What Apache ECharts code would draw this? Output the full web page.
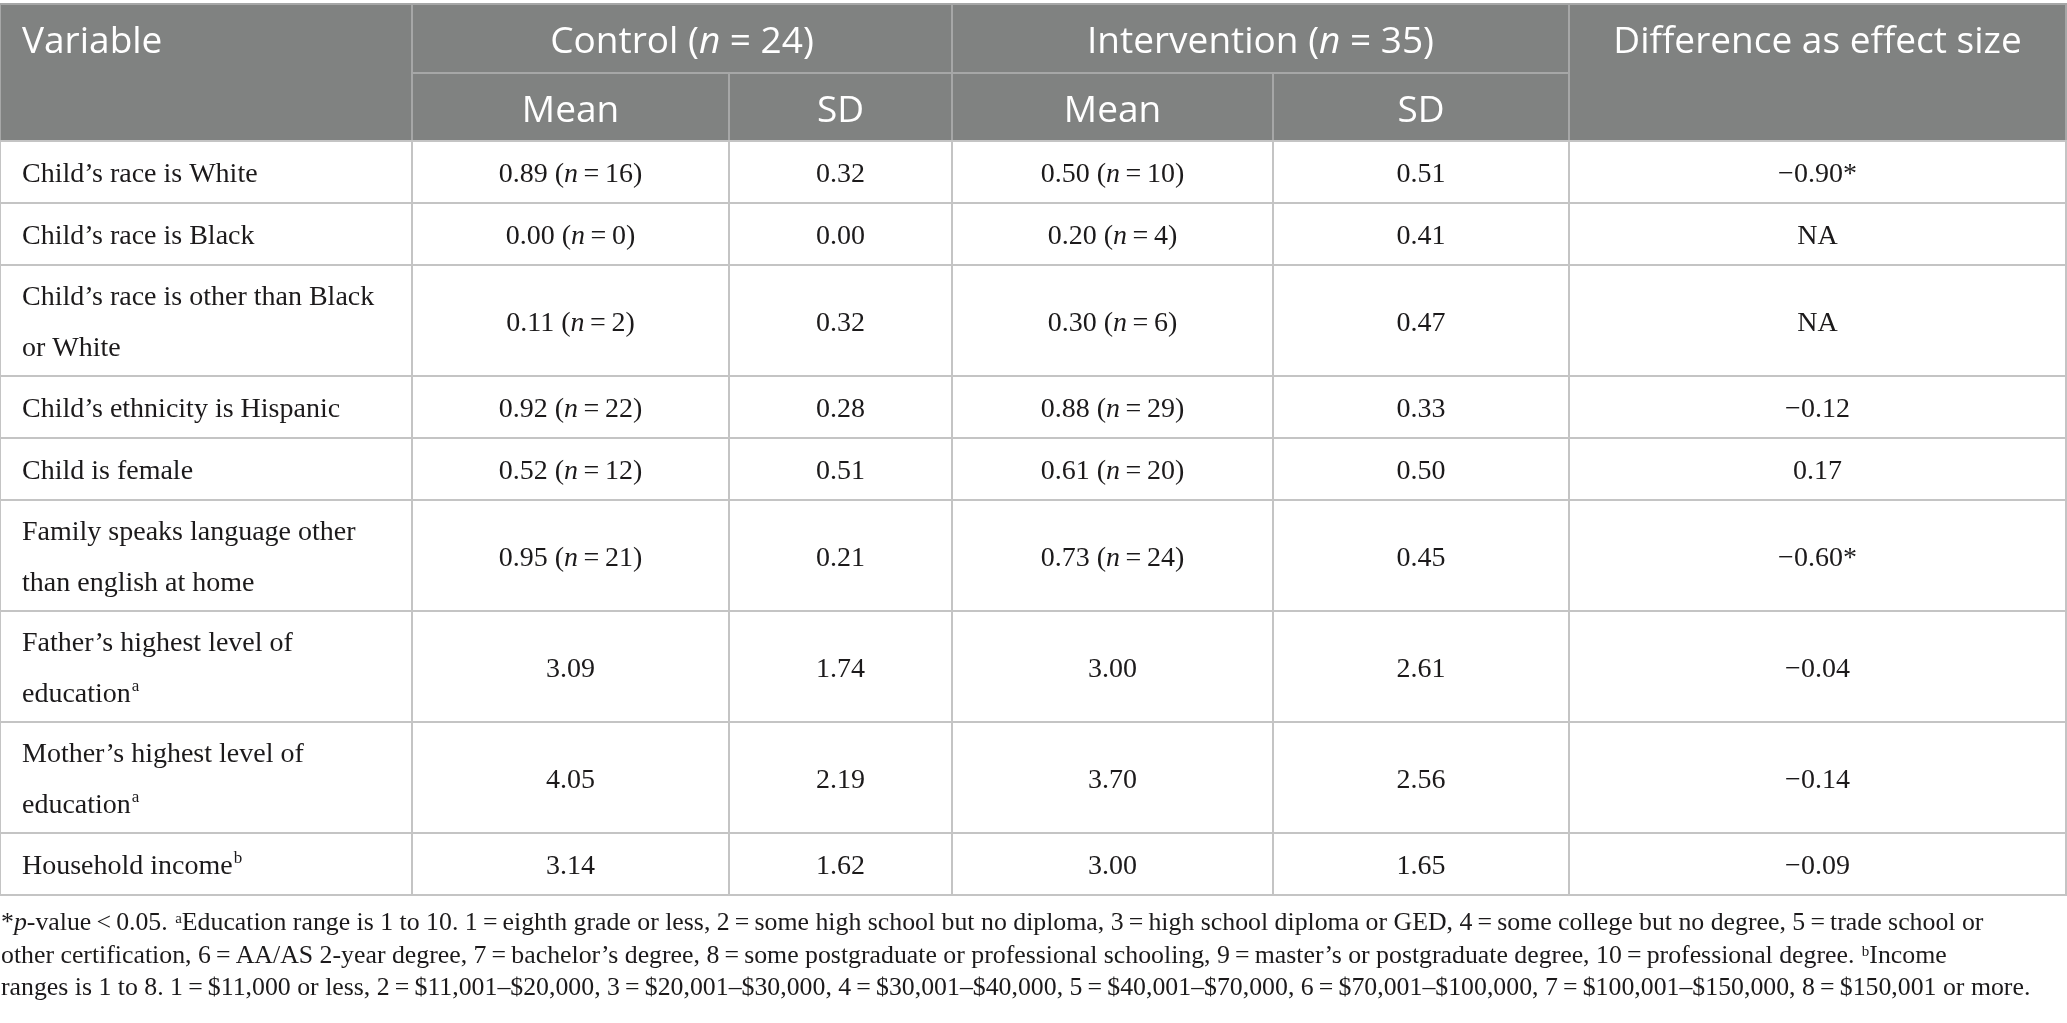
<!DOCTYPE html>
<html lang="en">
<head>
<meta charset="UTF-8">
<title>Child and family characteristics by group</title>
<script src="https://cdn.jsdelivr.net/npm/echarts@6.0.0/dist/echarts.min.js"></script>
<style>
  html, body { margin: 0; padding: 0; background: #fff; }
  #chart { width: 2067px; height: 1023px; }
</style>
</head>
<body>
<div id="chart"></div>
<script>
// ---- table content ----
const variableHeader = 'Variable';
const effectHeader = 'Difference as effect size';
const groups = ['Control', 'Intervention'];
const groupN = [24, 35];
const subHeaders = ['Mean', 'SD', 'Mean', 'SD'];

const variables = [
  'Child’s race is White',
  'Child’s race is Black',
  'Child’s race is other than Black\nor White',
  'Child’s ethnicity is Hispanic',
  'Child is female',
  'Family speaks language other\nthan english at home',
  'Father’s highest level of\neducation{sup|a}',
  'Mother’s highest level of\neducation{sup|a}',
  'Household income{sup|b}'
];
const controlMean = [0.89, 0.00, 0.11, 0.92, 0.52, 0.95, 3.09, 4.05, 3.14];
const controlN = [16, 0, 2, 22, 12, 21, null, null, null];
const controlSD = [0.32, 0.00, 0.32, 0.28, 0.51, 0.21, 1.74, 2.19, 1.62];
const interventionMean = [0.50, 0.20, 0.30, 0.88, 0.61, 0.73, 3.00, 3.70, 3.00];
const interventionN = [10, 4, 6, 29, 20, 24, null, null, null];
const interventionSD = [0.51, 0.41, 0.47, 0.33, 0.50, 0.45, 2.61, 2.56, 1.65];
const effectSize = [-0.90, null, null, -0.12, 0.17, -0.60, -0.04, -0.14, -0.09];
const significant = [true, false, false, false, false, true, false, false, false];

const footnoteLines = [
  '*{i|p}-value\u2009<\u20090.05. {sup|a}Education range is 1 to 10. 1\u2009=\u2009eighth grade or less, 2\u2009=\u2009some high school but no diploma, 3\u2009=\u2009high school diploma or GED, 4\u2009=\u2009some college but no degree, 5\u2009=\u2009trade school or',
  'other certification, 6\u2009=\u2009AA/AS 2-year degree, 7\u2009=\u2009bachelor’s degree, 8\u2009=\u2009some postgraduate or professional schooling, 9\u2009=\u2009master’s or postgraduate degree, 10\u2009=\u2009professional degree. {sup|b}Income',
  'ranges is 1 to 8. 1\u2009=\u2009$11,000 or less, 2\u2009=\u2009$11,001–$20,000, 3\u2009=\u2009$20,001–$30,000, 4\u2009=\u2009$30,001–$40,000, 5\u2009=\u2009$40,001–$70,000, 6\u2009=\u2009$70,001–$100,000, 7\u2009=\u2009$100,001–$150,000, 8\u2009=\u2009$150,001 or more.'
];

// ---- layout / style ----
const colWidths = [412, 317, 223, 321, 296, 497];
const headerRowHeights = [69, 68];
const rowHeightByLines = { 1: 62, 2: 111 };
const HEAD_BG = '#808281';
const HEAD_LINE = '#a6a7a7';
const BODY_LINE = '#c4c4c4';
const TEXT = '#1c1a1b';
const SANS = '"Open Sans", "Noto Sans", sans-serif';
const SERIF = '"Liberation Serif", "DejaVu Serif", serif';

const colEdges = [0];
colWidths.forEach(w => colEdges.push(colEdges[colEdges.length - 1] + w));
const tableWidth = colEdges[colEdges.length - 1];

function fmt(v) {
  return v.toFixed(2).replace('-', '\u2212');
}
function meanText(m, n) {
  return n == null ? fmt(m) : fmt(m) + ' ({i|n}\u2009=\u2009' + n + ')';
}

// build cell list
const cells = [];
function addCell(c0, c1, y0, y1, text, opt) {
  cells.push(Object.assign({ x0: colEdges[c0], x1: colEdges[c1], y0: y0, y1: y1, ty: (y0 + y1) / 2, text: text, align: 'center', header: false }, opt || {}));
}

const h0 = headerRowHeights[0], h1 = headerRowHeights[0] + headerRowHeights[1];
addCell(0, 1, 0, h1, variableHeader, { header: true, align: 'left', ty: h0 / 2 });
addCell(1, 3, 0, h0, groups[0] + ' ({i|n} = ' + groupN[0] + ')', { header: true });
addCell(3, 5, 0, h0, groups[1] + ' ({i|n} = ' + groupN[1] + ')', { header: true });
addCell(5, 6, 0, h1, effectHeader, { header: true, ty: h0 / 2 });
subHeaders.forEach((s, i) => addCell(i + 1, i + 2, h0, h1, s, { header: true }));

let y = h1;
variables.forEach((v, r) => {
  const lines = v.split('\n').length;
  const h = rowHeightByLines[lines];
  const es = effectSize[r] == null ? 'NA' : fmt(effectSize[r]) + (significant[r] ? '*' : '');
  const row = [v, meanText(controlMean[r], controlN[r]), fmt(controlSD[r]),
    meanText(interventionMean[r], interventionN[r]), fmt(interventionSD[r]), es];
  row.forEach((t, c) => addCell(c, c + 1, y, y + h, t, { align: c === 0 ? 'left' : 'center' }));
  y += h;
});
const tableHeight = y;

const headFont = { fontFamily: SANS, fontSize: 37, lineHeight: 40, fill: '#fff' };
const bodyFont = { fontFamily: SERIF, fontSize: 28, lineHeight: 51, fill: TEXT };

function richFor(f, supSize, supPad) {
  return {
    i: { fontFamily: f.fontFamily, fontSize: f.fontSize, lineHeight: f.lineHeight, fontStyle: 'italic', fill: f.fill },
    sup: { fontFamily: f.fontFamily, fontSize: supSize, lineHeight: supSize, fill: f.fill, verticalAlign: 'top', padding: [supPad, 0, 0, 1] }
  };
}
const headRich = richFor(headFont, 20, 4);
const bodyRich = richFor(bodyFont, 17, 9);

function renderCell(params, api) {
  const c = cells[params.dataIndex];
  const p0 = api.coord([c.x0, c.y0]);
  const p1 = api.coord([c.x1, c.y1]);
  const left = c.align === 'left';
  const pt = api.coord([left ? c.x0 : (c.x0 + c.x1) / 2, c.ty]);
  const base = c.header ? headFont : bodyFont;
  return {
    type: 'group',
    children: [
      {
        type: 'rect',
        shape: { x: p0[0], y: p0[1], width: p1[0] - p0[0], height: p1[1] - p0[1] },
        style: { fill: c.header ? HEAD_BG : '#fff', stroke: c.header ? HEAD_LINE : BODY_LINE, lineWidth: 2 }
      },
      {
        type: 'text',
        style: Object.assign({}, base, {
          text: c.text,
          x: pt[0] + (left ? 22 : 0),
          y: pt[1] + (c.header ? 4 : 3),
          align: left ? 'left' : 'center',
          verticalAlign: 'middle',
          rich: c.header ? headRich : bodyRich
        })
      }
    ]
  };
}

const footFont = { fontFamily: SERIF, fontSize: 25.8, lineHeight: 32.5, fill: TEXT };

const chart = echarts.init(document.getElementById('chart'));
chart.setOption({
  animation: false,
  grid: { left: 0, top: 4, width: tableWidth, height: tableHeight },
  xAxis: { type: 'value', min: 0, max: tableWidth, show: false },
  yAxis: { type: 'value', min: 0, max: tableHeight, inverse: true, show: false },
  series: [{
    type: 'custom',
    renderItem: renderCell,
    clip: false,
    silent: true,
    data: cells.map(c => [c.x0, c.y0, c.x1, c.y1])
  }],
  graphic: [{
    type: 'text',
    left: 1,
    top: 907,
    silent: true,
    style: Object.assign({}, footFont, {
      text: footnoteLines.join('\n'),
      rich: richFor(footFont, 15, 5)
    })
  }]
});
</script>
</body>
</html>
